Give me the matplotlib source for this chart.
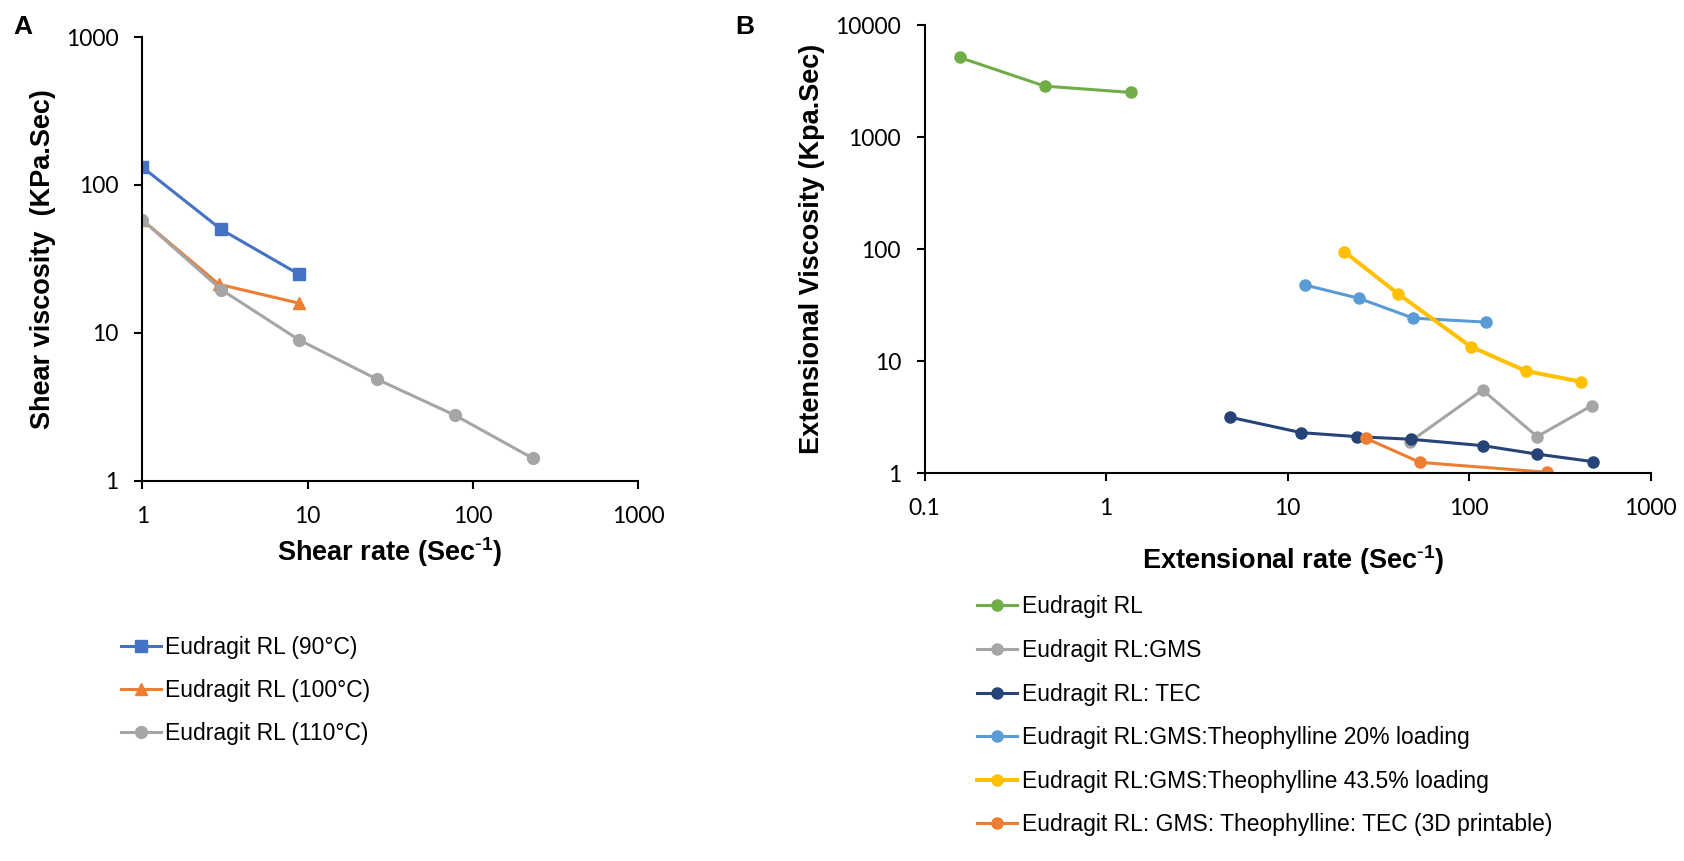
import numpy as np
import matplotlib
matplotlib.use("Agg")
import matplotlib.pyplot as plt
from matplotlib.ticker import FixedLocator, FixedFormatter, NullLocator

plt.rcParams['font.family'] = ['Liberation Sans', 'DejaVu Sans']
plt.rcParams['mathtext.default'] = 'regular'

# Panel A : shear viscosity vs shear rate
rate_90 = [1, 3, 8.8]
visc_90 = [132, 50, 25]
rate_100 = [1, 2.9, 8.8]
visc_100 = [58, 21.3, 15.9]
rate_110 = [1, 3, 8.8, 26.4, 77.7, 229]
visc_110 = [58, 19.6, 9.0, 4.84, 2.77, 1.42]
labels_a = ['Eudragit RL (90°C)', 'Eudragit RL (100°C)', 'Eudragit RL (110°C)']

# Panel B : extensional viscosity vs extensional rate
ext_rl = [0.156, 0.458, 1.37]
ev_rl = [5130, 2850, 2500]
ext_gms = [47.2, 118.6, 237, 473]
ev_gms = [1.91, 5.53, 2.12, 4.0]
ext_tec = [4.81, 11.9, 24.0, 47.6, 119.6, 237, 479]
ev_tec = [3.16, 2.30, 2.12, 2.01, 1.76, 1.48, 1.27]
ext_th20 = [12.4, 24.7, 49.2, 123.8]
ev_th20 = [47.9, 36.4, 24.2, 22.3]
ext_th43 = [20.5, 40.7, 102, 205, 413]
ev_th43 = [95, 39.8, 13.5, 8.18, 6.56]
ext_3d = [27.0, 53.6, 267]
ev_3d = [2.05, 1.25, 1.02]
labels_b = ['Eudragit RL', 'Eudragit RL:GMS', 'Eudragit RL: TEC',
            'Eudragit RL:GMS:Theophylline 20% loading',
            'Eudragit RL:GMS:Theophylline 43.5% loading',
            'Eudragit RL: GMS: Theophylline: TEC (3D printable)']

W, H = 1684, 861
fig = plt.figure(figsize=(W / 100, H / 100), dpi=100)


def fx(px):
    return px / W


def fy(py):
    return 1 - py / H


def style_axis(ax, ticks, ticklabels, yticks, yticklabels):
    ax.set_xscale('log')
    ax.set_yscale('log')
    ax.set_xlim(ticks[0], ticks[-1])
    ax.set_ylim(yticks[0], yticks[-1])
    ax.xaxis.set_major_locator(FixedLocator(ticks))
    ax.xaxis.set_major_formatter(FixedFormatter(ticklabels))
    ax.yaxis.set_major_locator(FixedLocator(yticks))
    ax.yaxis.set_major_formatter(FixedFormatter(yticklabels))
    ax.xaxis.set_minor_locator(NullLocator())
    ax.yaxis.set_minor_locator(NullLocator())
    for s in ['top', 'right']:
        ax.spines[s].set_visible(False)
    for s in ['left', 'bottom']:
        ax.spines[s].set_linewidth(1.5)
    ax.tick_params(axis='both', direction='out', length=6, width=1.5)
    ax.tick_params(axis='x', pad=12)
    ax.tick_params(axis='y', pad=11)
    for lab in ax.get_xticklabels() + ax.get_yticklabels():
        lab.set_fontfamily(['Lato', 'DejaVu Sans'])
        lab.set_fontsize(16.5)
    ax.patch.set_visible(False)


# ---- panel A
ax1 = fig.add_axes([fx(142.3), fy(480.7), fx(638.5 - 142.3), (480.7 - 37.1) / H])
ax1.plot(rate_90, visc_90, color='#4472C4', lw=2.2, marker='s', ms=8, label=labels_a[0])
ax1.plot(rate_100, visc_100, color='#ED7D31', lw=2.2, marker='^', ms=9, label=labels_a[1])
ax1.plot(rate_110, visc_110, color='#A5A5A5', lw=2.2, marker='o', ms=8.5, label=labels_a[2])
style_axis(ax1, [1, 10, 100, 1000], ['1', '10', '100', '1000'],
           [1, 10, 100, 1000], ['1', '10', '100', '1000'])

# ---- panel B
ax2 = fig.add_axes([fx(924.7), fy(473.2), fx(1650.6 - 924.7), (473.2 - 25) / H])
ax2.plot(ext_rl, ev_rl, color='#70AD47', lw=2.2, marker='o', ms=8, label=labels_b[0])
ax2.plot(ext_gms, ev_gms, color='#A5A5A5', lw=2.2, marker='o', ms=8, label=labels_b[1])
ax2.plot(ext_tec, ev_tec, color='#264478', lw=2.2, marker='o', ms=8, label=labels_b[2])
ax2.plot(ext_th20, ev_th20, color='#5B9BD5', lw=2.2, marker='o', ms=8, label=labels_b[3])
ax2.plot(ext_th43, ev_th43, color='#FFC000', lw=2.9, marker='o', ms=8, label=labels_b[4])
ax2.plot(ext_3d, ev_3d, color='#ED7D31', lw=2.2, marker='o', ms=8, label=labels_b[5])
style_axis(ax2, [0.1, 1, 10, 100, 1000], ['0.1', '1', '10', '100', '1000'],
           [1, 10, 100, 1000, 10000], ['1', '10', '100', '1000', '10000'])

# axis titles
fig.text(fx(43), fy(259), 'Shear viscosity  (KPa.Sec)', rotation=90, fontsize=19.5,
         fontweight='bold', ha='center', va='center')
fig.text(fx(390), fy(552), r'Shear rate (Sec$^{\text{-}1}$)', fontsize=19.5,
         fontweight='bold', ha='center', va='center')
fig.text(fx(812), fy(249), 'Extensional Viscosity (Kpa.Sec)', rotation=90, fontsize=19.5,
         fontweight='bold', ha='center', va='center')
fig.text(fx(1293), fy(560), r'Extensional rate (Sec$^{\text{-}1}$)', fontsize=19.5,
         fontweight='bold', ha='center', va='center')

# panel letters
fig.text(fx(13), fy(34), 'A', fontsize=19, fontweight='bold', va='baseline')
fig.text(fx(735), fy(34), 'B', fontsize=19, fontweight='bold', va='baseline')

# legends below each panel
h, l = ax1.get_legend_handles_labels()
fig.legend(h, l, loc='upper left', bbox_to_anchor=(fx(120.7), fy(650 - 14)),
           frameon=False, fontsize=16.5, handlelength=1.75, handletextpad=0.2,
           labelspacing=0.88, borderpad=0, borderaxespad=0, numpoints=1)
h, l = ax2.get_legend_handles_labels()
fig.legend(h, l, loc='upper left', bbox_to_anchor=(fx(977), fy(609.3 - 14)),
           frameon=False, fontsize=16.5, handlelength=1.75, handletextpad=0.2,
           labelspacing=0.9, borderpad=0, borderaxespad=0, numpoints=1)

fig.savefig('out.png', dpi=100)
